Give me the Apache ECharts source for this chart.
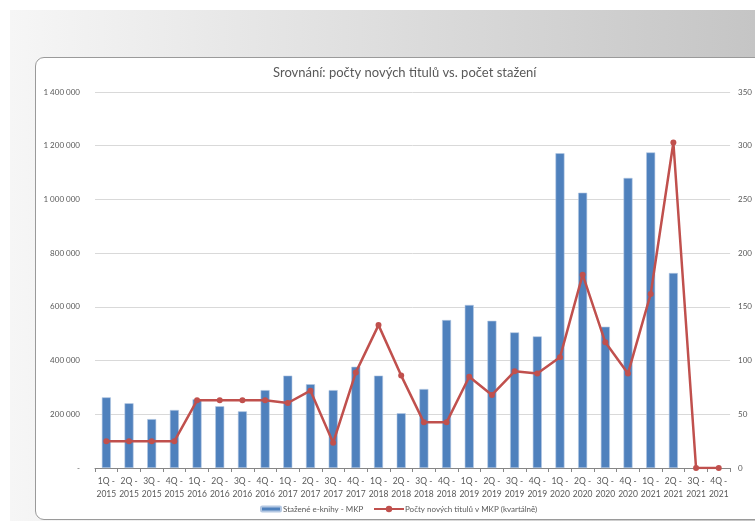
<!DOCTYPE html>
<html>
<head>
<meta charset="utf-8">
<script src="https://cdn.jsdelivr.net/npm/echarts@6/dist/echarts.min.js"></script>
<style>
  html,body{margin:0;padding:0;background:#fff;}
  #wrap{position:relative;width:755px;height:521px;overflow:hidden;}
  #bg{position:absolute;left:10px;top:10px;width:745px;height:511px;background:linear-gradient(to right,#f6f6f6,#c5c5c5);}
  #panel{position:absolute;left:35px;top:57px;width:740px;height:461px;background:#fff;border:1px solid #9a9a9a;border-radius:9px;}
  #chart{position:absolute;left:0;top:0;width:755px;height:521px;}
</style>
</head>
<body>
<div id="wrap">
  <div id="bg"></div>
  <div id="panel"></div>
  <div id="chart"></div>
</div>
<script>
const categories = [
  '1Q - 2015','2Q - 2015','3Q - 2015','4Q - 2015',
  '1Q - 2016','2Q - 2016','3Q - 2016','4Q - 2016',
  '1Q - 2017','2Q - 2017','3Q - 2017','4Q - 2017',
  '1Q - 2018','2Q - 2018','3Q - 2018','4Q - 2018',
  '1Q - 2019','2Q - 2019','3Q - 2019','4Q - 2019',
  '1Q - 2020','2Q - 2020','3Q - 2020','4Q - 2020',
  '1Q - 2021','2Q - 2021','3Q - 2021','4Q - 2021'
];
const downloads = [
  263000, 241000, 182000, 216000,
  256000, 230000, 211000, 290000,
  344000, 312000, 290000, 377000,
  344000, 204000, 294000, 551000,
  607000, 548000, 505000, 490000,
  1172000, 1025000, 526000, 1080000,
  1175000, 726000, null, null
];
const newTitles = [
  25, 25, 25, 25,
  63, 63, 63, 63,
  60.5, 72, 23.5, 89,
  133, 86, 42.5, 42.5,
  85, 68, 90, 88,
  103, 180, 117, 88,
  162, 303, 0, 0
];
const leftTicks = {min: 0, max: 1400000, interval: 200000};
const rightTicks = {min: 0, max: 350, interval: 50};
const seriesNames = ['Stažené e-knihy - MKP', 'Počty nových titulů v MKP (kvartálně)'];
const titleText = 'Srovnání: počty nových titulů vs. počet stažení';

const FONT = 'Lato, "Open Sans", sans-serif';
const chart = echarts.init(document.getElementById('chart'), null, {renderer: 'canvas'});
function fmtThousands(v){
  if (v === 0) return '-';
  return String(v).replace(/\B(?=(\d{3})+(?!\d))/g, ' ');
}
chart.setOption({
  backgroundColor: 'transparent',
  animation: false,
  textStyle: {fontFamily: FONT},
  title: {
    text: titleText,
    left: 268, top: 61,
    textStyle: {fontFamily: FONT, fontSize: 13, fontWeight: 'normal', color: '#595959'}
  },
  legend: [
    {
      data: [seriesNames[0]], left: 260, top: 505, padding: 0,
      itemWidth: 20, itemHeight: 5, itemGap: 4,
      textStyle: {fontFamily: FONT, fontSize: 8, color: '#595959', padding: [0,0,0,-3]}
    },
    {
      data: [seriesNames[1]], left: 373, top: 505, padding: 0,
      itemWidth: 30, itemHeight: 8, itemGap: 4,
      textStyle: {fontFamily: FONT, fontSize: 8, color: '#595959', padding: [0,0,0,-4]}
    }
  ],
  grid: {left: 95, right: 23, top: 92, bottom: 53, containLabel: false},
  xAxis: {
    type: 'category',
    data: categories,
    boundaryGap: true,
    axisLine: {lineStyle: {color: '#868686', width: 1}},
    axisTick: {show: true, length: 4, lineStyle: {color: '#868686'}},
    axisLabel: {
      interval: 0, margin: 7, color: '#595959', fontSize: 8.5, fontFamily: FONT, lineHeight: 13,
      formatter: v => v.replace(' - ', ' -\n')
    },
    splitLine: {show: false}
  },
  yAxis: [
    {
      type: 'value', min: leftTicks.min, max: leftTicks.max, interval: leftTicks.interval,
      axisLine: {show: false}, axisTick: {show: false},
      axisLabel: {color: '#595959', fontSize: 8, fontFamily: FONT, margin: 15, formatter: fmtThousands},
      splitLine: {show: true, lineStyle: {color: '#d9d9d9', width: 1}}
    },
    {
      type: 'value', min: rightTicks.min, max: rightTicks.max, interval: rightTicks.interval,
      axisLine: {show: false}, axisTick: {show: false},
      axisLabel: {color: '#595959', fontSize: 8, fontFamily: FONT, margin: 8},
      splitLine: {show: false}
    }
  ],
  series: [
    {
      name: seriesNames[0], type: 'bar', yAxisIndex: 0, data: downloads,
      barWidth: 9,
      itemStyle: {color: '#4f81bd', borderColor: '#b3c7e2', borderWidth: 0.6}
    },
    {
      name: seriesNames[1], type: 'line', yAxisIndex: 1, data: newTitles,
      symbol: 'circle', symbolSize: 6,
      lineStyle: {color: '#c0504d', width: 2.5},
      itemStyle: {color: '#c0504d'},
      z: 3
    }
  ]
});
</script>
</body>
</html>
